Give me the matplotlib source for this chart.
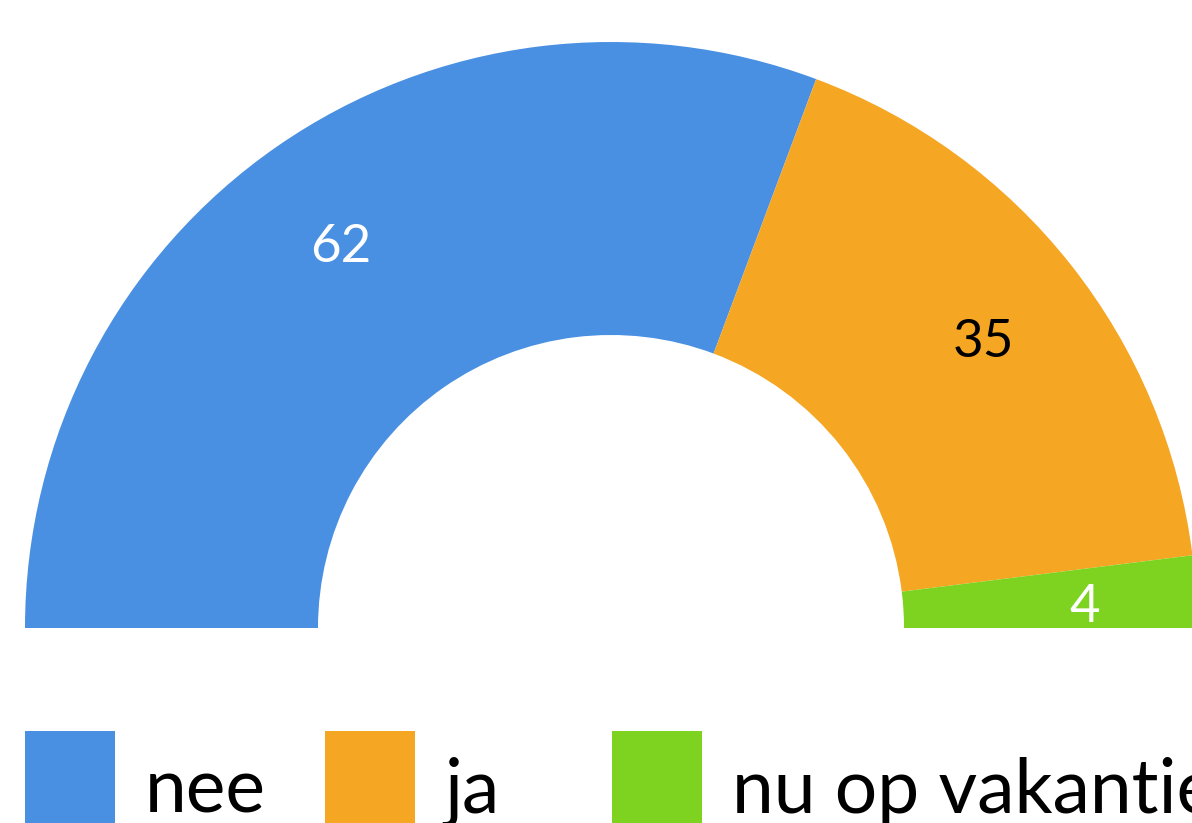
import numpy as np
import matplotlib
matplotlib.use('Agg')
import matplotlib.pyplot as plt

# data
labels = ['nee', 'ja', 'nu op vakantie']
counts = [62, 35, 4]
colors = ['#4A90E2', '#F5A623', '#7ED321']
label_colors = ['white', 'black', 'white']

plt.rcParams['font.family'] = ['Lato', 'DejaVu Sans']

W, H = 1192, 823
fig = plt.figure(figsize=(W / 100, H / 100), dpi=100)
ax = fig.add_axes([0, 0, 1, 1])
ax.axis('off')

# half donut: add a hidden wedge equal to the total for the bottom half
cx, cy, R = 611, H - 628, 586
total = sum(counts)
wedges, _ = ax.pie(counts + [total], colors=colors + ['white'],
                   startangle=180, counterclock=False,
                   center=(cx, cy), radius=R,
                   wedgeprops=dict(width=293, linewidth=0))
wedges[-1].set_visible(False)
ax.set_xlim(0, W)
ax.set_ylim(0, H)
ax.set_aspect('equal')

# value labels inside the slices
for w, val, tc in zip(wedges[:-1], counts, label_colors):
    mid = np.deg2rad((w.theta1 + w.theta2) / 2)
    r = 0.81 * R
    ax.text(cx + r * np.cos(mid), cy + r * np.sin(mid) - 9, str(val),
            ha='center', va='center', fontsize=38, color=tc)

# legend, one entry per anchor so the spacing matches
# tall handles so the squares run off the bottom edge like the original
x_pos = [25, 325, 612]
for w, lab, xp in zip(wedges[:-1], labels, x_pos):
    fig.legend([w], [lab], loc='upper left',
               bbox_to_anchor=(xp / W, 1 - 731 / H),
               frameon=False, fontsize=54, borderpad=0,
               borderaxespad=0, handlelength=1.2, handleheight=2.0,
               handletextpad=0.4)

fig.savefig('out.png', dpi=100)
